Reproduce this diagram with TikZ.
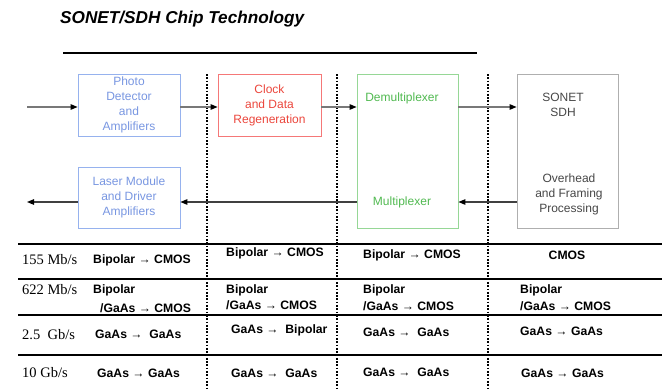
\documentclass[tikz,border=0pt]{standalone}
\usepackage{fontspec}
\setmainfont{Liberation Sans}
\newfontfamily\rateface{Liberation Serif}
\usetikzlibrary{arrows.meta}
\definecolor{optblue}{RGB}{150,178,238}
\definecolor{optbluetxt}{RGB}{120,150,225}
\definecolor{cdrred}{RGB}{245,120,120}
\definecolor{cdrredtxt}{RGB}{235,70,60}
\definecolor{muxgreen}{RGB}{150,215,150}
\definecolor{muxgreentxt}{RGB}{80,185,80}
\definecolor{framegray}{RGB}{175,175,175}
\definecolor{frametxt}{RGB}{70,70,70}
\definecolor{wiregray}{RGB}{120,120,120}
\tikzset{
  block/.style={draw, line width=0.8pt, rectangle, inner sep=0pt, align=center,
                font=\fontsize{12}{15}\selectfont},
  wire/.style={draw=wiregray, line width=1.1pt, -{Triangle[length=7pt,width=5.5pt,fill=black,color=black]}},
  divider/.style={line width=1.7pt, dash pattern=on 1.7pt off 1.6pt},
  rowrule/.style={line width=2.4pt},
  cell/.style={anchor=west, inner sep=0pt, font=\fontsize{12.2}{14}\bfseries\selectfont},
  rate/.style={anchor=west, inner sep=0pt, font=\fontsize{14.5}{16}\rateface\selectfont},
}
\begin{document}
\begin{tikzpicture}[x=1pt,y=-1pt]
\useasboundingbox (0,0) rectangle (662,389);

% title and rule
\node[inner sep=0pt, anchor=west, font=\fontsize{17.2}{20}\bfseries\itshape\selectfont] (title) at (60,19) {SONET/SDH Chip Technology};
\coordinate (ruleL) at (63,53);
\coordinate (ruleR) at (477,53);
\draw[line width=1.3pt] (ruleL) -- (ruleR);

% stage dividers
\foreach \x/\n in {207/d1, 337/d2, 488/d3} {
  \coordinate (\n top) at (\x,74);
  \coordinate (\n bot) at (\x,389);
  \draw[divider] (\n top) -- (\n bot);
}

% table rules
\foreach \y/\n in {244/r1, 279/r2, 315/r3, 355/r4} {
  \coordinate (\n L) at (18,\y);
  \coordinate (\n R) at (662,\y);
  \draw[rowrule] (\n L) -- (\n R);
}

% blocks
\node[block, draw=optblue, text=optbluetxt, minimum width=102pt, minimum height=62pt]
  (pd) at (129,105) {Photo\\Detector\\and\\Amplifiers};
\node[block, draw=cdrred, text=cdrredtxt, minimum width=103pt, minimum height=62pt]
  (cdr) at (269.5,105) {Clock\\and Data\\Regeneration};
\node[block, draw=optblue, text=optbluetxt, minimum width=102pt, minimum height=61pt]
  (laser) at (129,197.5) {Laser Module\\and Driver\\Amplifiers};
\node[block, draw=muxgreen, minimum width=101pt, minimum height=154pt]
  (mux) at (407.5,151) {};
\node[block, draw=framegray, minimum width=101pt, minimum height=154pt]
  (frm) at (567.5,151) {};

\node[inner sep=0pt, text=muxgreentxt, font=\fontsize{12}{15}\selectfont] (demuxlbl) at (402,98) {Demultiplexer};
\node[inner sep=0pt, text=muxgreentxt, font=\fontsize{12}{15}\selectfont] (muxlbl) at (402,202) {Multiplexer};
\node[inner sep=0pt, text=frametxt, align=center, font=\fontsize{12}{15}\selectfont] (sonet) at (563,105) {SONET\\SDH};
\node[inner sep=0pt, text=frametxt, align=center, font=\fontsize{12}{15}\selectfont] (ohd) at (569,194) {Overhead\\and Framing\\Processing};

% signal path
\coordinate (rxin) at (27,107);
\coordinate (txout) at (27,202);
\draw[wire] (rxin) -- (pd.west |- rxin);
\draw[wire] (pd.east |- rxin) -- (cdr.west |- rxin);
\draw[wire] (cdr.east |- rxin) -- (mux.west |- rxin);
\draw[wire] (mux.east |- rxin) -- (frm.west |- rxin);
\draw[wire, draw=black!75] (frm.west |- txout) -- (mux.east |- txout);
\draw[wire, draw=black!75] (mux.west |- txout) -- (laser.east |- txout);
\draw[wire, draw=black!75] (laser.west |- txout) -- (txout);

% rate rows
\node[rate] (rate1) at (22,260) {155 Mb/s};
\node[rate] (rate2) at (22,290) {622 Mb/s};
\node[rate] (rate3) at (22,335) {2.5\ \ Gb/s};
\node[rate] (rate4) at (22,373) {10 Gb/s};

% column 1
\node[cell] (a1) at (93,260) {Bipolar → CMOS};
\node[cell] (a2) at (93,290) {Bipolar};
\node[cell] (a2b) at (100,308) {/GaAs → CMOS};
\node[cell] (a3) at (95,334) {GaAs →\ \ GaAs};
\node[cell] (a4) at (97,373) {GaAs → GaAs};

% column 2
\node[cell] (b1) at (226,253) {Bipolar → CMOS};
\node[cell] (b2) at (226,290) {Bipolar};
\node[cell] (b2b) at (226,305) {/GaAs → CMOS};
\node[cell] (b3) at (231,330) {GaAs →\ \ Bipolar};
\node[cell] (b4) at (231,373) {GaAs →\ \ GaAs};

% column 3
\node[cell] (c1) at (363,255) {Bipolar → CMOS};
\node[cell] (c2) at (363,290) {Bipolar};
\node[cell] (c2b) at (363,306) {/GaAs → CMOS};
\node[cell] (c3) at (363,332) {GaAs →\ \ GaAs};
\node[cell] (c4) at (363,372) {GaAs →\ \ GaAs};

% column 4
\node[cell, anchor=center] (e1) at (567,255) {CMOS};
\node[cell] (e2) at (520,290) {Bipolar};
\node[cell] (e2b) at (520,306) {/GaAs → CMOS};
\node[cell] (e3) at (520,331) {GaAs → GaAs};
\node[cell] (e4) at (521,373) {GaAs → GaAs};
\end{tikzpicture}
\end{document}
